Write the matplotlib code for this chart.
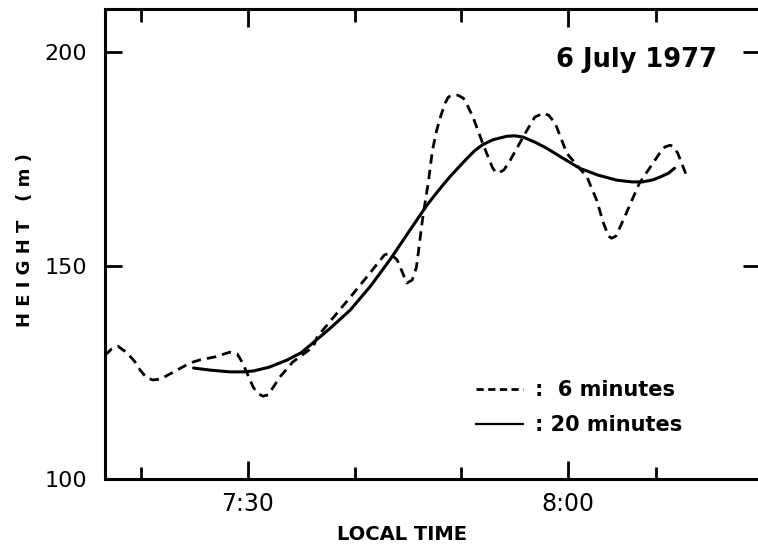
import numpy as np
import matplotlib.pyplot as plt
from matplotlib.lines import Line2D
from matplotlib.ticker import FixedLocator, FuncFormatter

# ===== dados (minutos depois das 7:00, altura em m) =====
t_6min = [16.6, 17.2, 17.8, 18.6, 19.4, 19.9, 20.5, 21.1, 21.8, 23.2, 24.6, 25.5,
          26.9, 28.3, 29.0, 29.5, 30.5, 30.9, 31.4, 31.9, 33.0, 34.2, 36.1, 36.5,
          38.0, 39.6, 41.2, 42.8, 43.3, 44.0, 44.4, 44.9, 45.4, 45.8, 46.4, 46.9,
          47.3, 47.7, 48.1, 48.5, 48.8, 49.2, 49.7, 50.2, 50.6, 51.1, 52.0, 52.9,
          53.2, 53.5, 54.0, 54.6, 56.0, 56.9, 57.7, 58.2, 58.8, 59.9, 61.8, 62.7,
          63.3, 63.8, 64.1, 64.5, 65.2, 66.7, 68.6, 69.1, 69.6, 69.9, 70.3, 71.1]
h_6min = [129.0, 130.4, 131.1, 129.7, 127.5, 125.5, 123.7, 123.2, 123.4, 125.3, 127.2, 127.9,
          128.6, 129.7, 129.3, 127.2, 121.5, 120.1, 119.4, 119.7, 123.9, 127.4, 130.9, 133.3,
          137.8, 142.6, 147.5, 152.5, 152.9, 151.3, 148.9, 145.9, 146.6, 149.6, 161.4, 169.3,
          177.0, 181.7, 185.2, 188.1, 189.5, 189.9, 189.9, 189.2, 187.4, 184.8, 178.7, 173.1,
          171.9, 171.7, 172.4, 174.7, 181.0, 184.8, 185.7, 185.2, 183.4, 176.3, 170.7, 165.3,
          160.2, 156.9, 156.4, 156.9, 160.7, 169.3, 176.3, 177.8, 178.2, 177.8, 176.3, 171.2]

t_20min = [24.9, 26.5, 28.3, 29.5, 30.5, 32.0, 33.7, 35.0, 36.1, 37.8, 39.6, 41.5,
           43.3, 45.0, 46.8, 47.9, 48.9, 49.6, 50.5, 51.3, 52.0, 53.0, 54.3, 55.0,
           55.8, 57.0, 58.0, 59.5, 61.1, 62.8, 64.6, 66.0, 67.0, 68.0, 68.6, 69.4, 70.0]
h_20min = [126.0, 125.5, 125.1, 125.1, 125.3, 126.2, 127.9, 129.6, 131.9, 135.5, 139.6, 145.2,
           151.3, 157.6, 164.2, 167.7, 170.7, 172.6, 175.0, 177.0, 178.3, 179.5, 180.3, 180.4,
           180.1, 178.8, 177.5, 175.2, 172.8, 171.2, 170.0, 169.6, 169.6, 170.1, 170.7, 171.6, 172.8]

y_major = [100, 150, 200]
x_major = [30, 60]
x_minor = [20, 40, 50, 68.3]
titulo = "6 July 1977"
lbl_6 = ":  6 minutes"
lbl_20 = ": 20 minutes"

fig = plt.figure(figsize=(7.58, 5.46), dpi=100)
ax = fig.add_axes([0.1385, 0.1227, 0.864, 0.8608])

ax.plot(t_6min, h_6min, color="black", lw=2.0, ls=(0, (3.4, 2.2)),
        dash_capstyle="butt", dash_joinstyle="round")
ax.plot(t_20min, h_20min, color="black", lw=2.2, solid_capstyle="round",
        solid_joinstyle="round")

ax.set_xlim(16.6, 78.0)
ax.set_ylim(100, 210.1)

for s in ax.spines.values():
    s.set_linewidth(2.2)

ax.xaxis.set_major_locator(FixedLocator(x_major))
ax.xaxis.set_minor_locator(FixedLocator(x_minor))
ax.xaxis.set_major_formatter(FuncFormatter(lambda v, p: f"{7 + int(v)//60}:{int(v) % 60:02d}"))
ax.yaxis.set_major_locator(FixedLocator(y_major))
ax.yaxis.set_minor_locator(FixedLocator([]))

ax.tick_params(axis="both", which="both", direction="in", top=True, right=True,
               width=2.0, color="black")
ax.tick_params(axis="x", which="major", length=13, labelsize=17, pad=9)
ax.tick_params(axis="x", which="minor", length=9)
ax.tick_params(axis="y", which="major", length=12, labelsize=16, pad=13)

ax.text(0.934, 0.877, titulo, transform=ax.transAxes, ha="right", va="baseline",
        fontsize=18.5, fontweight="bold")

h1 = Line2D([], [], color="black", lw=2.0, ls=(0, (2.6, 1.6)))
h2 = Line2D([], [], color="black", lw=1.6)
leg = ax.legend([h1, h2], [lbl_6, lbl_20], loc="upper left",
                bbox_to_anchor=(0.566, 0.21), frameon=False, fontsize=15,
                handlelength=2.25, handletextpad=0.6, labelspacing=0.7,
                borderpad=0, borderaxespad=0)
for t in leg.get_texts():
    t.set_fontweight("bold")

fig.text(25 / 758, 1 - 240 / 546, "H E I G H T   ( m )", rotation=90,
         ha="center", va="center", fontsize=13, fontweight="bold")
fig.text(402 / 758, 1 - 534 / 546, "LOCAL TIME", ha="center", va="center",
         fontsize=14, fontweight="bold")

fig.savefig("out.png", dpi=100)
